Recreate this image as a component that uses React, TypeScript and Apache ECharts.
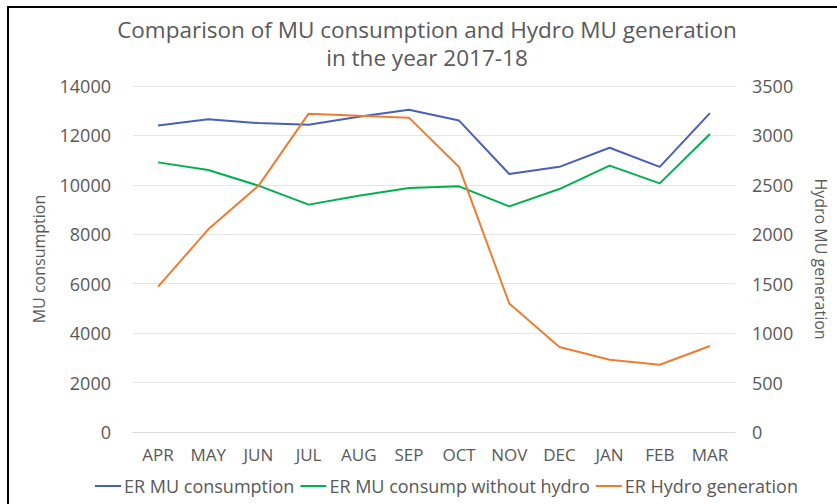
import React, { useEffect, useRef } from "react";
import * as echarts from "echarts";

const months = ["APR", "MAY", "JUN", "JUL", "AUG", "SEP", "OCT", "NOV", "DEC", "JAN", "FEB", "MAR"];
const erConsumption = [12400, 12650, 12500, 12430, 12760, 13040, 12600, 10440, 10730, 11500, 10730, 12900];
const erWithoutHydro = [10910, 10600, 9970, 9200, 9560, 9870, 9940, 9130, 9830, 10780, 10060, 12060];
const erHydro = [1470, 2050, 2490, 3220, 3200, 3180, 2680, 1300, 860, 730, 680, 870];
const titleLines = ["Comparison of MU consumption and Hydro MU generation", "in the year 2017-18"];

const FONT = "Open Sans";
const GREY = "#595959";

export default function App() {
  const ref = useRef<HTMLDivElement>(null);
  useEffect(() => {
    if (!ref.current) return;
    const chart = echarts.init(ref.current, null, { renderer: "svg" });
    chart.setOption({
      animation: false,
      backgroundColor: "#ffffff",
      textStyle: { fontFamily: FONT },
      title: titleLines.map((t, i) => ({
        text: t,
        left: 427,
        textAlign: "center",
        top: 18 + i * 28,
        padding: 0,
        textStyle: { fontFamily: FONT, fontSize: 22.5, fontWeight: "normal", color: GREY, lineHeight: 23 },
      })),
      graphic: [
        {
          type: "rect",
          shape: { x: 8, y: 7, width: 900, height: 600 },
          style: { fill: "none", stroke: "#000", lineWidth: 2 },
          silent: true,
        },
      ],
      legend: {
        bottom: 4,
        left: 90,
        itemWidth: 26,
        itemHeight: 2,
        itemGap: 6,
        icon: "rect",
        textStyle: { fontFamily: FONT, fontSize: 18, color: GREY, padding: [0, 0, 0, -2] },
        data: ["ER MU consumption", "ER MU consump without hydro", "ER Hydro generation"],
      },
      grid: { left: 133, right: 102, top: 86, bottom: 72 },
      xAxis: {
        type: "category",
        data: months,
        axisLine: { show: true, lineStyle: { color: "#D9D9D9" } },
        axisTick: { show: false },
        axisLabel: { fontFamily: FONT, fontSize: 17, color: GREY, margin: 14 },
      },
      yAxis: [
        {
          type: "value",
          min: 0,
          max: 14000,
          interval: 2000,
          name: "MU consumption",
          nameLocation: "middle",
          nameGap: 86,
          nameTextStyle: { fontFamily: FONT, fontSize: 16, color: GREY },
          axisLine: { show: false },
          axisTick: { show: false },
          axisLabel: { fontFamily: FONT, fontSize: 18, color: GREY, margin: 22, formatter: (v: number) => String(v) },
          splitLine: { lineStyle: { color: "#E6E6E6" } },
        },
        {
          type: "value",
          min: 0,
          max: 3500,
          interval: 500,
          name: "Hydro MU generation",
          nameLocation: "middle",
          nameGap: 78,
          nameRotate: -90,
          nameTextStyle: { fontFamily: FONT, fontSize: 16, color: GREY },
          axisLine: { show: false },
          axisTick: { show: false },
          axisLabel: { fontFamily: FONT, fontSize: 18, color: GREY, margin: 17, formatter: (v: number) => String(v) },
          splitLine: { show: false },
        },
      ],
      series: [
        {
          name: "ER MU consumption",
          type: "line",
          data: erConsumption,
          yAxisIndex: 0,
          showSymbol: false,
          color: "#4A5FB5",
          lineStyle: { width: 2, color: "#4A5FB5" },
        },
        {
          name: "ER MU consump without hydro",
          type: "line",
          data: erWithoutHydro,
          yAxisIndex: 0,
          showSymbol: false,
          color: "#00B050",
          lineStyle: { width: 2, color: "#00B050" },
        },
        {
          name: "ER Hydro generation",
          type: "line",
          data: erHydro,
          yAxisIndex: 1,
          showSymbol: false,
          color: "#ED7D31",
          lineStyle: { width: 2, color: "#ED7D31" },
        },
      ],
    });
    return () => chart.dispose();
  }, []);
  return <div ref={ref} style={{ width: 837, height: 504, position: "absolute", left: 0, top: 0 }} />;
}
